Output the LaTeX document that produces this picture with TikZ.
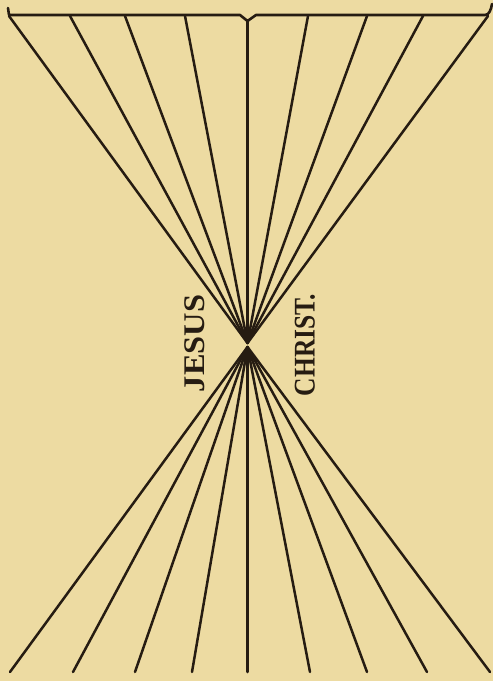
\documentclass[tikz,border=0pt]{standalone}
\usepackage{fontspec}
\newfontfamily\jesusfont[FakeStretch=1.08]{Liberation Serif}
\newfontfamily\christfont[FakeStretch=0.85]{Liberation Serif}
\usetikzlibrary{positioning}
\definecolor{paper}{RGB}{237,219,162}
\definecolor{ink}{RGB}{38,28,18}
\tikzset{
  ray/.style={draw=ink, line width=2.5pt, line cap=round},
  bar/.style={draw=ink, line width=2.6pt, line cap=round, line join=round},
  knot/.style={fill=ink},
  sidename/.style={font=\bfseries\fontsize{30}{30}\selectfont, text=ink,
               rotate=90, inner sep=0pt},
}
\begin{document}
\begin{tikzpicture}[x=1pt,y=-1pt]
  \fill[paper] (0,0) rectangle (493,681);
  \useasboundingbox (0,0) rectangle (493,681);

  % ---- the two focus points ----------------------------------------
  \coordinate (apexU) at (247.5,343);
  \coordinate (apexL) at (247.5,347);

  % ---- top bar, hooked ends and notch over the middle ray -------------
  \draw[bar] (8,8) -- (9,15) -- (240,15) -- (247.5,21) -- (256,15) -- (485,15)
             .. controls (489,15) and (491,10) .. (492,4);

  % ---- upper rays (bar -> focus) -------------------------------------
  \foreach \x/\y/\i in {9/16/1,70/16/2,125/16/3,185/16/4,247.5/21/5,308/16/6,367/16/7,423/16/8,488/16/9}{
    \coordinate (top\i) at (\x,\y);
    \draw[ray] (top\i) -- (apexU);
  }

  % ---- lower rays (focus -> ground) ----------------------------------
  \foreach \x/\i in {10/1,73/2,135/3,192/4,247.5/5,310/6,367/7,427/8,490/9}{
    \coordinate (foot\i) at (\x,672);
    \draw[ray] (apexL) -- (foot\i);
  }

  % dark wedges where the rays meet
  \fill[knot] (apexU) -- (238.5,331) -- (256.5,331) -- cycle;
  \fill[knot] (apexL) -- (237.5,360) -- (257.5,360) -- cycle;

  % ---- names ----------------------------------------------------------
  \node[sidename, font=\jesusfont\bfseries\fontsize{30}{30}\selectfont]
    (jesus) at (195,343.5) {JESUS};
  \node[sidename, font=\christfont\bfseries\fontsize{30}{30}\selectfont]
    (christ) at (305,345) {CHRIST.};
\end{tikzpicture}
\end{document}
